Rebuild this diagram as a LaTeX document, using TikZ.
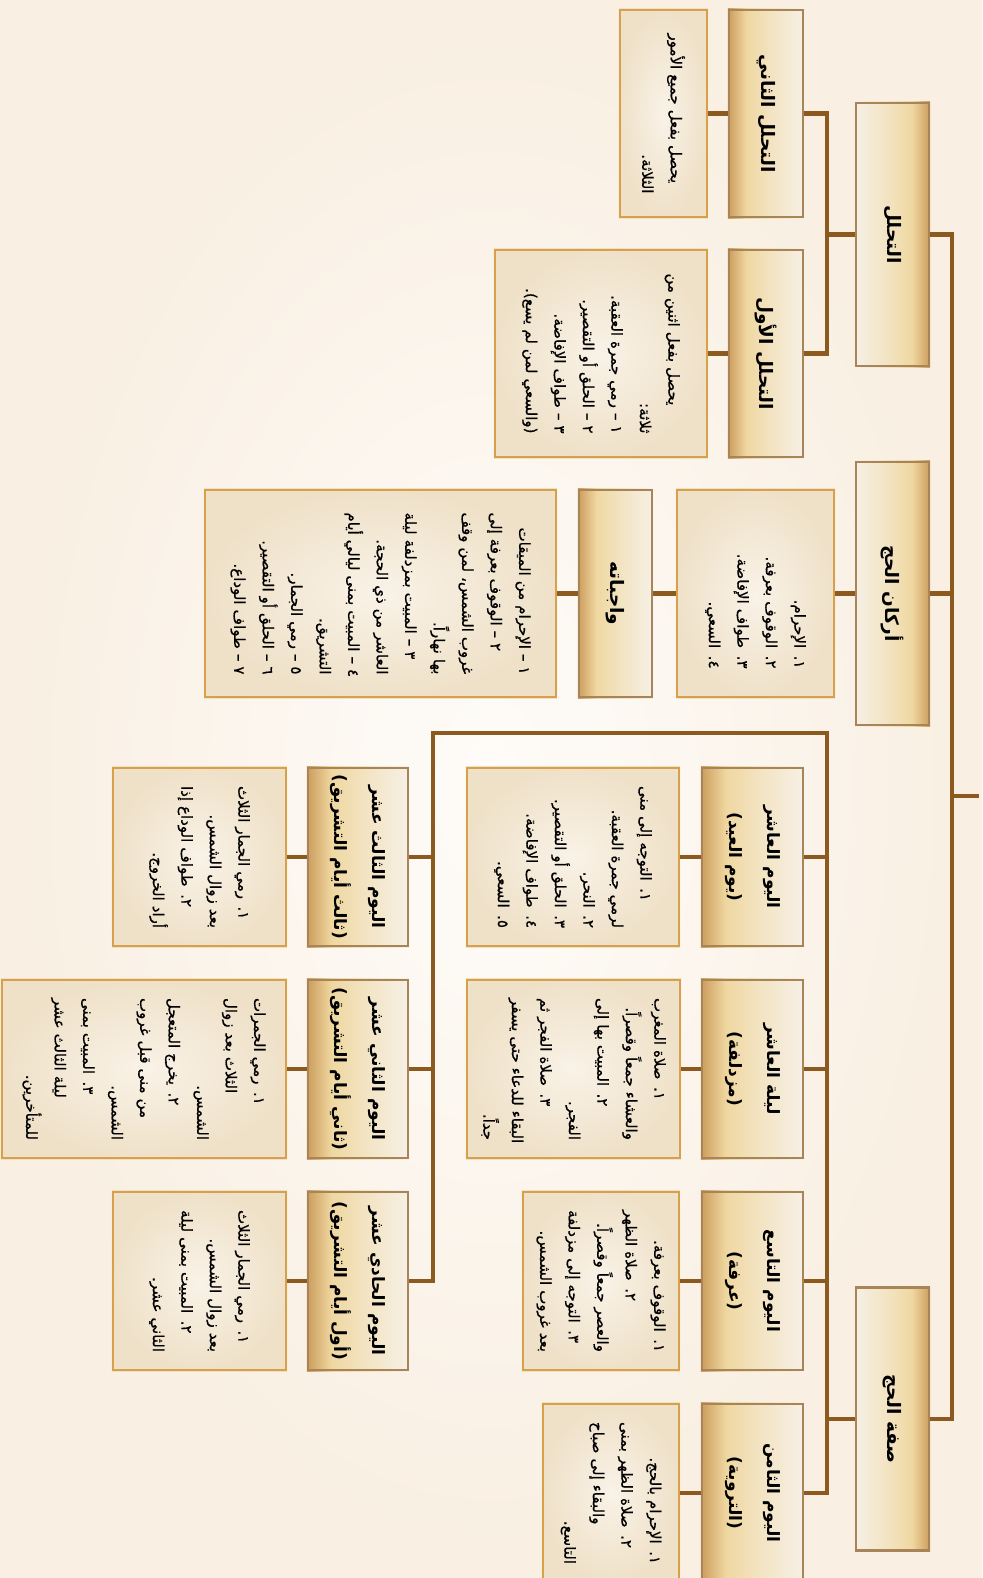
\documentclass[tikz,border=0pt]{standalone}
\usepackage{fontspec}
\newfontfamily\arabicfont[Script=Arabic]{DejaVu Sans}
\newfontfamily\arabicbody[Script=Arabic,FakeBold=0.7]{DejaVu Sans}
\TeXXeTstate=1
\usetikzlibrary{backgrounds}
\definecolor{conncol}{RGB}{140,89,30}
\definecolor{tbord}{RGB}{216,160,74}
\definecolor{hbord}{RGB}{168,133,89}
\definecolor{hdark}{RGB}{204,156,92}
\definecolor{hyel}{RGB}{239,215,160}
\definecolor{hlight}{RGB}{246,240,230}
\definecolor{tin}{RGB}{249,242,231}
\definecolor{tout}{RGB}{239,225,200}
\definecolor{bgin}{RGB}{254,252,249}
\definecolor{bgout}{RGB}{249,239,226}
\pgfdeclarehorizontalshading{hdrA}{100bp}{color(0bp)=(hdark); color(25bp)=(hdark); color(37bp)=(hyel); color(52bp)=(hyel!55!hlight); color(75bp)=(hlight); color(100bp)=(hlight)}
\pgfdeclarehorizontalshading{hdrB}{100bp}{color(0bp)=(hlight); color(25bp)=(hlight); color(48bp)=(hyel!55!hlight); color(63bp)=(hyel); color(75bp)=(hdark); color(100bp)=(hdark)}
\newcommand\jl[1]{\hbox to\linewidth{\beginR #1\endR}}
\newcommand\el[1]{\hbox to\linewidth{\hfill\beginR #1\endR}}
\newcommand\rl[1]{\beginR #1\endR}
\newcommand\hshade[2]{\shade[shading=#2] (#1.south west) rectangle (#1.north east);}
\newcommand\tshade[1]{\shade[inner color=tin, outer color=tout] (#1.south west) rectangle (#1.north east);}
\tikzset{
  boxsz/.style n args={2}{minimum width=#2, minimum height=#1},
  hdr/.style={draw=hbord, line width=2.2pt, rotate=-90, inner sep=0pt, align=center,
    font=\arabicfont\bfseries\fontsize{17}{38}\selectfont},
  mainhdr/.style={hdr, font=\arabicfont\bfseries\fontsize{18.5}{38}\selectfont},
  tbox/.style={draw=tbord, line width=2.4pt, rotate=-90, inner sep=0pt,
    font=\arabicbody\fontsize{15}{28.5}\selectfont},
  conn/.style={draw=conncol, line width=4.8pt},
}
\begin{document}
\begin{tikzpicture}[x=1pt,y=-1pt]
\useasboundingbox (0,0) rectangle (982,1578);
% main boxes
\node[mainhdr, boxsz={73}{263}] (tah) at (892.5,234.5) {\rl{التحلل}};
\node[mainhdr, boxsz={73}{263}] (arkan) at (892.5,593.5) {\rl{أركان الحج}};
\node[mainhdr, boxsz={73}{263}] (sifa) at (892.5,1419) {\rl{صفة الحج}};
% tahallul branch
\node[mainhdr, boxsz={74}{207}] (t2) at (766,113.5) {\rl{التحلل الثاني}};
\node[mainhdr, boxsz={74}{207}] (t1) at (766,353.5) {\rl{التحلل الأول}};
\node[tbox, boxsz={87}{207}, text width=160pt] (t2t) at (663.5,113.5) {%
\jl{يحصل بفعل جميع الأمور}
\el{الثلاثة.}};
\node[tbox, boxsz={212}{207}, text width=160pt] (t1t) at (601,353.5) {%
\jl{يحصل بفعل اثنين من}
\el{ثلاثة:}
\el{١ – رمي جمرة العقبة.}
\el{٢ – الحلق أو التقصير.}
\el{٣ – طواف الإفاضة.}
\el{(والسعي لمن لم يسع).}};
% arkan branch
\node[tbox, boxsz={157}{207}, text width=150pt] (arkt) at (755.5,593.5) {%
\el{١. الإحرام.}
\el{٢. الوقوف بعرفة.}
\el{٣. طواف الإفاضة.}
\el{٤. السعي.}};
\node[mainhdr, boxsz={73}{207}] (waj) at (615.5,593.5) {\rl{واجباته}};
\node[tbox, boxsz={351}{207}, text width=162pt] (wajt) at (380.5,593.5) {%
\el{١ – الإحرام من الميقات}
\jl{٢ – الوقوف بعرفة إلى}
\jl{غروب الشمس، لمن وقف}
\el{بها نهاراً.}
\jl{٣ – المبيت بمزدلفة ليلة}
\el{العاشر من ذي الحجة.}
\jl{٤ – المبيت بمنى ليالي أيام}
\el{التشريق.}
\el{٥ – رمي الجمار.}
\el{٦ – الحلق أو التقصير.}
\el{٧ – طواف الوداع.}};
% sifa branch, right column
\node[hdr, boxsz={101}{178}] (d10) at (752.5,857) {\rl{اليوم العاشر}\\\rl{(يوم العيد)}};
\node[hdr, boxsz={101}{178}] (n10) at (752.5,1069) {\rl{ليلة العاشر}\\\rl{(مزدلفة)}};
\node[hdr, boxsz={101}{178}] (d9) at (752.5,1281) {\rl{اليوم التاسع}\\\rl{(عرفة)}};
\node[hdr, boxsz={101}{178}] (d8) at (752.5,1493) {\rl{اليوم الثامن}\\\rl{(التروية)}};
\node[tbox, boxsz={212}{178}, text width=142pt] (d10t) at (573,857) {%
\jl{١. التوجه إلى منى}
\el{لرمي جمرة العقبة.}
\el{٢. النحر.}
\el{٣. الحلق أو التقصير.}
\el{٤. طواف الإفاضة.}
\el{٥. السعي.}};
\node[tbox, boxsz={213}{178}, text width=142pt] (n10t) at (573.5,1069) {%
\jl{١. صلاة المغرب}
\el{والعشاء جمعاً وقصراً.}
\jl{٢. المبيت بها إلى}
\el{الفجر.}
\jl{٣. صلاة الفجر ثم}
\jl{البقاء للدعاء حتى يسفر}
\el{جداً.}};
\node[tbox, boxsz={156}{178}, text width=142pt] (d9t) at (601,1281) {%
\el{١. الوقوف بعرفة.}
\jl{٢. صلاة الظهر}
\el{والعصر جمعاً وقصراً.}
\jl{٣. التوجه إلى مزدلفة}
\el{بعد غروب الشمس.}};
\node[tbox, boxsz={136}{178}, text width=142pt] (d8t) at (611,1493) {%
\el{١. الإحرام بالحج.}
\jl{٢. صلاة الظهر بمنى}
\jl{والبقاء إلى صباح}
\el{التاسع.}};
% left column
\node[hdr, boxsz={100}{178}] (d13) at (358,857) {\rl{اليوم الثالث عشر}\\\rl{(ثالث أيام التشريق)}};
\node[hdr, boxsz={100}{178}] (d12) at (358,1069) {\rl{اليوم الثاني عشر}\\\rl{(ثاني أيام التشريق)}};
\node[hdr, boxsz={100}{178}] (d11) at (358,1281) {\rl{اليوم الحادي عشر}\\\rl{(أول أيام التشريق)}};
\node[tbox, boxsz={173}{178}, text width=142pt] (d13t) at (199.5,857) {%
\jl{١. رمي الجمار الثلاث}
\el{بعد زوال الشمس.}
\jl{٢. طواف الوداع إذا}
\el{أراد الخروج.}};
\node[tbox, boxsz={284}{178}, text width=142pt] (d12t) at (144,1069) {%
\jl{١. رمي الجمرات}
\jl{الثلاث بعد زوال}
\el{الشمس.}
\jl{٢. يخرج المتعجل}
\jl{من منى قبل غروب}
\el{الشمس.}
\jl{٣. المبيت بمنى}
\jl{ليلة الثالث عشر}
\el{للمتأخرين.}};
\node[tbox, boxsz={173}{178}, text width=142pt] (d11t) at (199.5,1281) {%
\jl{١. رمي الجمار الثلاث}
\el{بعد زوال الشمس.}
\jl{٢. المبيت بمنى ليلة}
\el{الثاني عشر.}};
% coordinates for buses
\coordinate (busR) at (952,796);
\coordinate (rootend) at (979,796);
\coordinate (bx) at (827,733);
\coordinate (bl) at (433,733);
% connectors
\draw[conn] (busR) -- (rootend);
\draw[conn] (tah.north) -| (busR) |- (sifa.north);
\draw[conn] (arkan.north) -- (arkan.north -| busR);
\draw[conn] (t2.north) -| (tah.south -| bx) |- (t1.north);
\draw[conn] (tah.south) -- (tah.south -| bx);
\draw[conn] (t2.south) -- (t2t.north);
\draw[conn] (t1.south) -- (t1t.north);
\draw[conn] (arkan.south) -- (arkt.north);
\draw[conn] (arkt.south) -- (waj.north);
\draw[conn] (waj.south) -- (wajt.north);
\draw[conn] (d8.north) -| (bx) -- (bl) |- (d11.north);
\draw[conn] (sifa.south) -- (sifa.south -| bx);
\draw[conn] (d10.north) -- (d10.north -| bx);
\draw[conn] (n10.north) -- (n10.north -| bx);
\draw[conn] (d9.north) -- (d9.north -| bx);
\draw[conn] (d13.north) -- (d13.north -| bl);
\draw[conn] (d12.north) -- (d12.north -| bl);
\draw[conn] (d10.south) -- (d10t.north);
\draw[conn] (n10.south) -- (n10t.north);
\draw[conn] (d9.south) -- (d9t.north);
\draw[conn] (d8.south) -- (d8t.north);
\draw[conn] (d13.south) -- (d13t.north);
\draw[conn] (d12.south) -- (d12t.north);
\draw[conn] (d11.south) -- (d11t.north);
\begin{pgfonlayer}{background}
\shade[inner color=bgin, outer color=bgout] (0,0) rectangle (982,1578);
\hshade{tah}{hdrB}\hshade{arkan}{hdrB}\hshade{sifa}{hdrB}
\hshade{t2}{hdrA}\hshade{t1}{hdrA}\hshade{waj}{hdrA}
\hshade{d10}{hdrA}\hshade{n10}{hdrA}\hshade{d9}{hdrA}\hshade{d8}{hdrA}
\hshade{d13}{hdrA}\hshade{d12}{hdrA}\hshade{d11}{hdrA}
\tshade{t2t}\tshade{t1t}\tshade{arkt}\tshade{wajt}
\tshade{d10t}\tshade{n10t}\tshade{d9t}\tshade{d8t}
\tshade{d13t}\tshade{d12t}\tshade{d11t}
\end{pgfonlayer}
\end{tikzpicture}
\end{document}
